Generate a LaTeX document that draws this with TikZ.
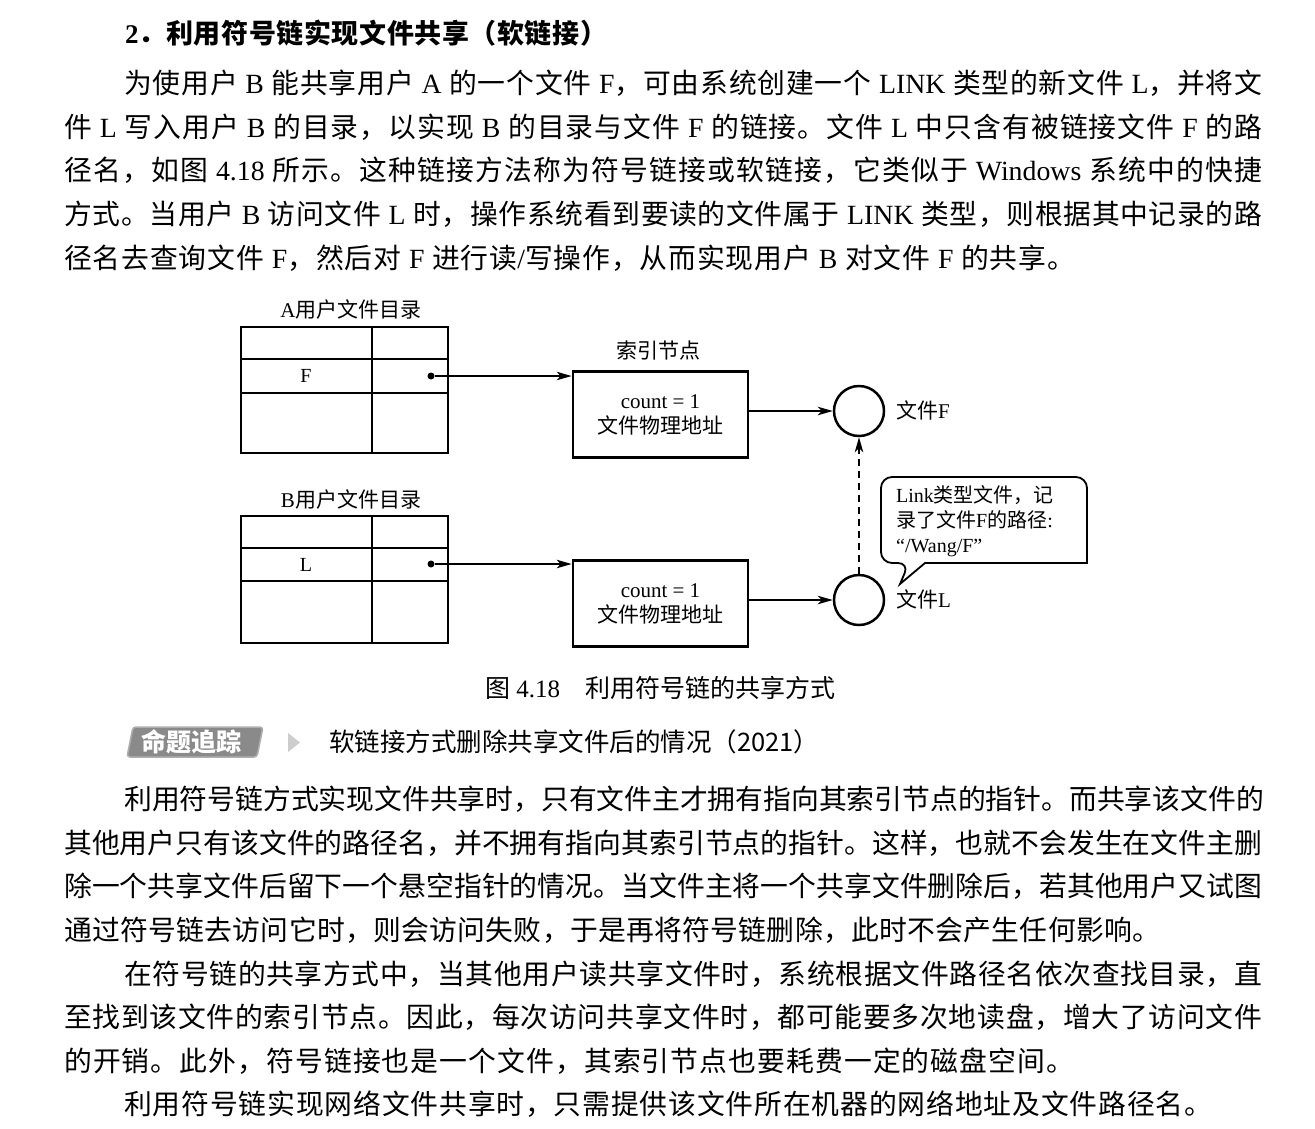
\documentclass[tikz,border=0pt]{standalone}
\usepackage{fontspec}
\setmainfont{Liberation Serif}
\newfontfamily\cjk{Noto Sans CJK SC}
\usetikzlibrary{arrows.meta}
\definecolor{badgegray}{RGB}{138,138,138}
\definecolor{badgerim}{RGB}{175,175,175}
\definecolor{trigray}{RGB}{205,205,205}

% Chinese characters go to the CJK font, the rest stays in Times
\XeTeXinterchartokenstate=1
\newXeTeXintercharclass\hanclass
\newcount\hancnt
\def\sethan#1#2{\hancnt=#1 \loop\XeTeXcharclass\hancnt=\hanclass \advance\hancnt by 1 \ifnum\hancnt<#2 \repeat}
\sethan{"4E00}{"A000}
\sethan{"3000}{"3040}
\sethan{"FF00}{"FFF0}
\def\latinfont{\rmfamily}
\XeTeXinterchartoks 0 \hanclass = {\cjk}
\XeTeXinterchartoks 4095 \hanclass = {\cjk}
\XeTeXinterchartoks \hanclass 0 = {\latinfont}
\XeTeXinterchartoks \hanclass 4095 = {\latinfont}
\XeTeXinterchartoks \hanclass \hanclass = {\hskip 0pt plus 4pt\relax}

\begin{document}
\begin{tikzpicture}[x=1pt,y=-1pt,
  txt/.style={inner sep=0pt,anchor=base west},
  body/.style={txt,font=\fontsize{27.8}{30}\selectfont},
  lbl/.style={inner sep=0pt,font=\fontsize{21}{25}\selectfont},
  ibox/.style={draw,line width=2.7pt,minimum width=175pt,minimum height=86pt,align=center,font=\fontsize{21}{25}\selectfont},
  fcirc/.style={draw,circle,line width=2.5pt,minimum size=50pt,inner sep=0pt},
  ptr/.style={circle,fill,inner sep=0pt,minimum size=7pt},
  arr/.style={line width=1.6pt,-{Stealth[length=15pt,width=8.5pt,inset=4pt]}},
  tbl/.style={line width=2.8pt}]

\useasboundingbox (0,0) rectangle (1315,1128);

% heading and first paragraph
\node[txt,font=\fontsize{27}{30}\selectfont\bfseries] (head) at (125,43.3) {\makebox[482pt][s]{2．利用符号链实现文件共享（软链接）}};
\node[body] (pa1) at (124,93.5) {\makebox[1138pt][s]{为使用户 B 能共享用户 A 的一个文件 F，可由系统创建一个 LINK 类型的新文件 L，并将文}};
\node[body] (pa2) at (64,137.3) {\makebox[1198pt][s]{件 L 写入用户 B 的目录，以实现 B 的目录与文件 F 的链接。文件 L 中只含有被链接文件 F 的路}};
\node[body] (pa3) at (64,180.8) {\makebox[1198pt][s]{径名，如图 4.18 所示。这种链接方法称为符号链接或软链接，它类似于 Windows 系统中的快捷}};
\node[body] (pa4) at (64,224.5) {\makebox[1198pt][s]{方式。当用户 B 访问文件 L 时，操作系统看到要读的文件属于 LINK 类型，则根据其中记录的路}};
\node[body] (pa5) at (64,268.5) {\makebox[1011pt][s]{径名去查询文件 F，然后对 F 进行读/写操作，从而实现用户 B 对文件 F 的共享。}};

% directory of user A
\node[lbl] (dirAcap) at (351,310) {A用户文件目录};
\draw[tbl] (241,327) rectangle (448,453);
\draw[tbl] (241,359) -- (448,359) (241,393) -- (448,393) (372,327) -- (372,453);
\node[lbl,font=\fontsize{20}{24}\selectfont] (entryF) at (306,376) {F};
\node[ptr] (ptrA) at (431,376) {};

% index node and file F
\node[lbl] (idxcap) at (658,351) {索引节点};
\node[ibox] (idxA) at (660.5,414.5) {count = 1\\文件物理地址};
\draw[arr] (ptrA) -- (ptrA -| idxA.west);
\node[fcirc] (fileF) at (859,411) {};
\node[lbl,anchor=west] (fileFcap) at (896,410) {文件F};
\draw[arr] (idxA.east |- fileF) -- (fileF);

% directory of user B
\node[lbl] (dirBcap) at (351,499) {B用户文件目录};
\draw[tbl] (241,516) rectangle (448,643);
\draw[tbl] (241,548) -- (448,548) (241,581) -- (448,581) (372,516) -- (372,643);
\node[lbl,font=\fontsize{20}{24}\selectfont] (entryL) at (306,565) {L};
\node[ptr] (ptrB) at (431,564) {};

% index node and link file L
\node[ibox] (idxB) at (660.5,603.5) {count = 1\\文件物理地址};
\draw[arr] (ptrB) -- (ptrB -| idxB.west);
\node[fcirc] (fileL) at (859,600) {};
\node[lbl,anchor=west] (fileLcap) at (896,599) {文件L};
\draw[arr] (idxB.east |- fileL) -- (fileL);
\draw[arr,dash pattern=on 7pt off 5pt] (fileL) -- (fileF);

% callout
\draw[line width=1.8pt,fill=white] (925,563) -- (1087,563) [rounded corners=11pt] -- (1087,477) -- (881,477) -- (881,563) -- (909,563) [sharp corners] -- (900,584) -- cycle;
\node[lbl,anchor=west,align=left,font=\fontsize{20}{25}\selectfont] (note) at (896,521) {Link类型文件，记\\录了文件F的路径:\\“/Wang/F”};

% caption
\node[txt,font=\fontsize{25}{28}\selectfont] (figcap) at (485,697.5) {图 4.18　利用符号链的共享方式};

% exam tracking badge
\draw[fill=badgegray,draw=badgerim,line width=1.5pt,rounded corners=3pt] (127,757) -- (133,727) -- (263,727) -- (257,757) -- cycle;
\node[inner sep=0pt,text=white,font=\fontsize{25}{28}\selectfont\bfseries] (badge) at (191,742) {命题追踪};
\fill[trigray] (288,733) -- (300,742.5) -- (288,752) -- cycle;
\node[inner sep=0pt,anchor=west,font=\fontsize{25.5}{28}\selectfont] (track) at (329,742) {\def\latinfont{\cjk}\cjk 软链接方式删除共享文件后的情况（2021）};

% remaining paragraphs
\node[body] (pb1) at (124,809.6) {\makebox[1138pt][s]{利用符号链方式实现文件共享时，只有文件主才拥有指向其索引节点的指针。而共享该文件的}};
\node[body] (pb2) at (64,853.2) {\makebox[1198pt][s]{其他用户只有该文件的路径名，并不拥有指向其索引节点的指针。这样，也就不会发生在文件主删}};
\node[body] (pb3) at (64,896.8) {\makebox[1198pt][s]{除一个共享文件后留下一个悬空指针的情况。当文件主将一个共享文件删除后，若其他用户又试图}};
\node[body] (pb4) at (64,940.4) {\makebox[1096pt][s]{通过符号链去访问它时，则会访问失败，于是再将符号链删除，此时不会产生任何影响。}};
\node[body] (pc1) at (124,984) {\makebox[1138pt][s]{在符号链的共享方式中，当其他用户读共享文件时，系统根据文件路径名依次查找目录，直}};
\node[body] (pc2) at (64,1027.6) {\makebox[1198pt][s]{至找到该文件的索引节点。因此，每次访问共享文件时，都可能要多次地读盘，增大了访问文件}};
\node[body] (pc3) at (64,1071.2) {\makebox[1010pt][s]{的开销。此外，符号链接也是一个文件，其索引节点也要耗费一定的磁盘空间。}};
\node[body] (pd1) at (124,1114.8) {\makebox[1088pt][s]{利用符号链实现网络文件共享时，只需提供该文件所在机器的网络地址及文件路径名。}};
\end{tikzpicture}
\end{document}
